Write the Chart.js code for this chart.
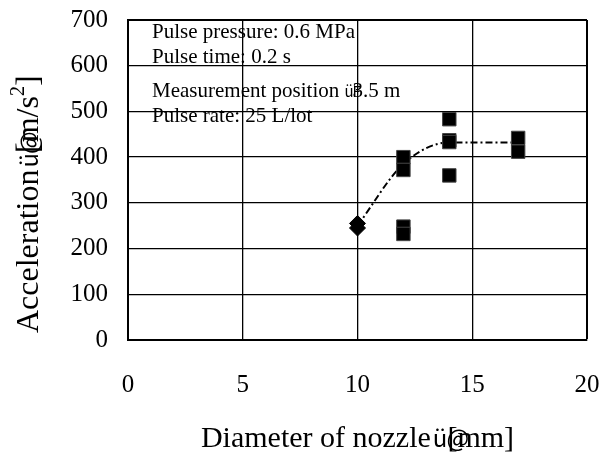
<!DOCTYPE html>
<html><head><meta charset="utf-8">
<script src="https://cdn.jsdelivr.net/npm/chart.js@4"></script>
<style>html,body{margin:0;padding:0;background:#fff}</style>
</head><body>
<canvas id="c" width="602" height="454"></canvas>
<script>
// ---- data ----
const diamondX = [10, 10];
const diamondY = [255, 245];
const squareX = [12, 12, 12, 12, 14, 14, 14, 14, 17, 17];
const squareY = [400, 372, 248, 232, 483, 437, 433, 360, 442, 412];
const fitX = [10, 12, 14, 17];
const fitY = [250, 385, 432, 432];
const xTicks = [0, 5, 10, 15, 20];
const yTicks = [0, 100, 200, 300, 400, 500, 600, 700];
const notes = ["Pulse pressure: 0.6 MPa", "Pulse time: 0.2 s", "Measurement position ", "Pulse rate: 25 L/lot"];
const noteTail = ["ü", "F", "3.5 m"];
const xTitle = ["Diameter of nozzle", "ü", "@", "[mm]"];
const yTitle = ["Acceleration", "ü", "@", "[m/s", "2", "]"];

const SERIF = '"Liberation Serif", "Times New Roman", serif';
const SANS = '"Noto Sans CJK JP", "DejaVu Sans", sans-serif';

const toPts = (xs, ys) => xs.map((x, i) => ({x, y: ys[i]}));

const textPlugin = {
  id: 'texts',
  afterDraw(chart) {
    const {ctx, chartArea: a} = chart;
    ctx.save();
    ctx.fillStyle = '#000';
    ctx.textBaseline = 'alphabetic';
    ctx.textAlign = 'left';
    // notes
    const nx = a.left + 24;
    const base = [18, 43, 77, 102];
    notes.forEach((t, i) => {
      ctx.font = '21px ' + SERIF;
      ctx.fillText(t, nx, a.top + base[i]);
      if (i === 2) {
        let cx = nx + ctx.measureText(t).width;
        ctx.font = '15px ' + SANS;
        ctx.fillText(noteTail[0], cx, a.top + base[i]);
        cx += ctx.measureText(noteTail[0]).width;
        ctx.fillText(noteTail[1], cx - 1, a.top + base[i]);
        ctx.font = '21px ' + SERIF;
        ctx.fillText(noteTail[2], cx - 1, a.top + base[i]);
      }
    });
    // x title
    const f1 = '30px ' + SERIF, f2 = '24px ' + SANS;
    ctx.font = f1; const w0 = ctx.measureText(xTitle[0]).width, w3 = ctx.measureText(xTitle[3]).width;
    ctx.font = f2; const w1 = ctx.measureText(xTitle[1]).width;
    const total = w0 + 2 + w1 + w3;
    let x0 = (a.left + a.right) / 2 - total / 2;
    const by = 447;
    ctx.font = f1; ctx.fillText(xTitle[0], x0, by);
    let cx = x0 + w0 + 2;
    ctx.font = f2; ctx.fillText(xTitle[1], cx, by);
    cx += w1;
    ctx.fillText(xTitle[2], cx - 1, by);
    ctx.font = f1; ctx.fillText(xTitle[3], cx, by);
    // y title (rotated)
    ctx.save();
    ctx.translate(38, a.bottom - 7);
    ctx.rotate(-Math.PI / 2);
    const g1 = '32px ' + SERIF, g2 = '24px ' + SANS;
    let p = 0;
    ctx.font = g1; ctx.fillText(yTitle[0], p, 0); p += ctx.measureText(yTitle[0]).width + 2;
    ctx.font = g2; ctx.fillText(yTitle[1], p, 0); p += ctx.measureText(yTitle[1]).width;
    ctx.fillText(yTitle[2], p - 1, 0);
    ctx.font = g1; ctx.fillText(yTitle[3], p, 0); p += ctx.measureText(yTitle[3]).width;
    ctx.font = '20px ' + SERIF; ctx.fillText(yTitle[4], p, -14); p += ctx.measureText(yTitle[4]).width;
    ctx.font = g1; ctx.fillText(yTitle[5], p, 0);
    ctx.restore();
    ctx.restore();
  }
};

new Chart(document.getElementById('c'), {
  type: 'scatter',
  data: {
    datasets: [
      {
        type: 'line',
        data: toPts(fitX, fitY),
        borderColor: '#000',
        borderWidth: 2,
        borderDash: [7, 3, 2, 3],
        pointRadius: 0,
        cubicInterpolationMode: 'monotone',
        fill: false,
        order: 2
      },
      {
        data: toPts(diamondX, diamondY),
        pointStyle: 'rectRot',
        pointRadius: 8,
        backgroundColor: '#000',
        borderColor: '#000',
        borderWidth: 1,
        order: 1
      },
      {
        data: toPts(squareX, squareY),
        pointStyle: 'rect',
        pointRadius: 9.5,
        backgroundColor: '#000',
        borderColor: '#444',
        borderWidth: 1,
        order: 1
      }
    ]
  },
  options: {
    responsive: false,
    animation: false,
    layout: {padding: {top: 20, right: 15, left: 0, bottom: 0}},
    plugins: {legend: {display: false}, tooltip: {enabled: false}},
    scales: {
      x: {
        type: 'linear', min: 0, max: 20,
        afterBuildTicks: s => { s.ticks = xTicks.map(v => ({value: v})); },
        afterFit: s => { s.height = 114; s.paddingLeft = 0; s.paddingRight = 0; },
        ticks: {color: '#000', padding: 30, font: {family: SERIF, size: 25}, maxRotation: 0},
        grid: {color: '#000', lineWidth: c => (c.index === xTicks.length - 1 ? 2 : 1.3), drawTicks: false},
        border: {color: '#000', width: 2}
      },
      y: {
        type: 'linear', min: 0, max: 700,
        afterBuildTicks: s => { s.ticks = yTicks.map(v => ({value: v})); },
        afterFit: s => { s.width = 128; s.paddingTop = 0; s.paddingBottom = 0; },
        ticks: {color: '#000', padding: 20, font: {family: SERIF, size: 25}},
        grid: {color: '#000', lineWidth: c => (c.index === yTicks.length - 1 ? 2 : 1.3), drawTicks: false},
        border: {color: '#000', width: 2}
      }
    }
  },
  plugins: [textPlugin]
});
</script>
</body></html>
